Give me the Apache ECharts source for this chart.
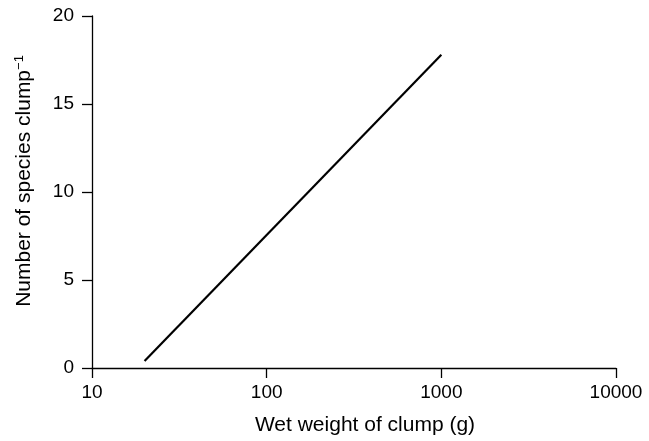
<!DOCTYPE html>
<html>
<head>
<meta charset="utf-8">
<script src="https://cdn.jsdelivr.net/npm/echarts@6/dist/echarts.min.js"></script>
<style>html,body{margin:0;padding:0;background:#fff}#c{width:649px;height:441px}</style>
</head>
<body>
<div id="c"></div>
<script>
var weights = [20, 1000];
var species = [0.4, 17.8];
var xTicks = [10, 100, 1000, 10000];
var yTicks = [0, 5, 10, 15, 20];

var chart = echarts.init(document.getElementById('c'));
var font = 'Liberation Sans, Arial, Helvetica, sans-serif';
chart.setOption({
  animation: false,
  backgroundColor: '#fff',
  grid: {left: 92, right: 33, top: 16, bottom: 71},
  xAxis: {
    type: 'log', logBase: 10, min: xTicks[0], max: xTicks[xTicks.length - 1],
    name: 'Wet weight of clump (g)', nameLocation: 'middle', nameGap: 47,
    nameTextStyle: {color: '#000', fontSize: 21, fontFamily: font, padding: [0, 0, 0, 22]},
    axisLine: {show: true, lineStyle: {color: '#000', width: 1.3}},
    axisTick: {show: true, length: 10, lineStyle: {color: '#000', width: 1.3}},
    axisLabel: {color: '#000', fontSize: 19, fontFamily: font, margin: 15,
      formatter: function (v) { return String(Math.round(v)); }},
    splitLine: {show: false}, minorTick: {show: false}
  },
  yAxis: {
    type: 'value', min: yTicks[0], max: yTicks[yTicks.length - 1], interval: 5,
    name: 'Number of species clump{sup|−1}', nameLocation: 'middle', nameGap: 56,
    nameTextStyle: {color: '#000', fontSize: 21, fontFamily: font, padding: [0, 0, 0, 22],
      rich: {sup: {fontSize: 13, fontFamily: font, color: '#000', verticalAlign: 'top', padding: [0, 0, 10, 0]}}},
    axisLine: {show: true, lineStyle: {color: '#000', width: 1.3}},
    axisTick: {show: true, length: 10, lineStyle: {color: '#000', width: 1.3}},
    axisLabel: {color: '#000', fontSize: 19, fontFamily: font, margin: 18},
    splitLine: {show: false}
  },
  series: [{
    type: 'line', symbol: 'none',
    data: weights.map(function (w, i) { return [w, species[i]]; }),
    lineStyle: {color: '#000', width: 2.2}
  }]
});
</script>
</body>
</html>
